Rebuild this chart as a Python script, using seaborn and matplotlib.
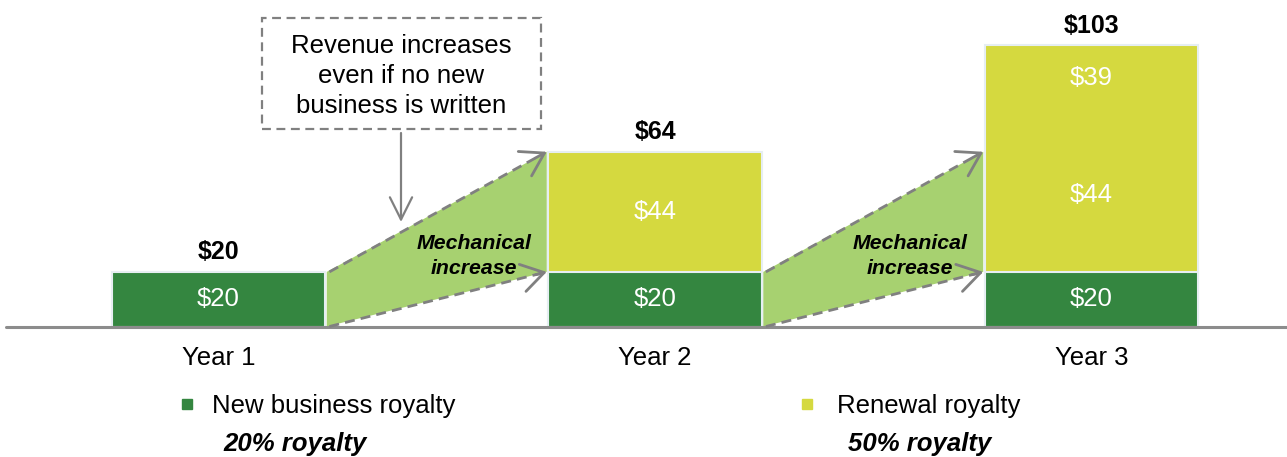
import matplotlib
matplotlib.use("Agg")
import matplotlib.pyplot as plt
from matplotlib.patches import Polygon, Rectangle
import seaborn as sns
import pandas as pd
import numpy as np

# ---- data ----
years = ["Year 1", "Year 2", "Year 3"]
new_business = [20, 20, 20]
renewal_yr2_cohort = [0, 44, 44]
renewal_yr3_cohort = [0, 0, 39]
totals = [20, 64, 103]
legend_labels = ["New business royalty", "Renewal royalty"]
legend_notes = ["20% royalty", "50% royalty"]
callout_text = "Revenue increases\neven if no new\nbusiness is written"
mech_text = "Mechanical\nincrease"

# ---- style ----
GREEN = "#348640"
YELLOW = "#D5D93F"
LIGHT = "#A7D170"
GRAY = "#808080"
EDGE = "#E6EEF2"
FONT = ["Liberation Sans", "DejaVu Sans"]

sns.set_theme(style="white")
plt.rcParams["font.family"] = FONT

W, H = 1287, 457
fig = plt.figure(figsize=(W / 100, H / 100), dpi=100)
ax = fig.add_axes([0, 0, 1, 1])

# pixel -> data helpers (layout only)
X0, XS = 218.5, 436.5
Y0, YS = 326.5, 2.73
def dx(px):
    return (px - X0) / XS
def dy(py):
    return (Y0 - py) / YS

bw = 0.488
df = pd.DataFrame({
    "year": years,
    "new": new_business,
    "r2": renewal_yr2_cohort,
    "r3": renewal_yr3_cohort,
})
df["top"] = df["new"] + df["r2"] + df["r3"]

sns.barplot(data=df, x="year", y="top", color=YELLOW, saturation=1, width=bw,
            edgecolor=EDGE, linewidth=1.5, ax=ax, zorder=3)
sns.barplot(data=df, x="year", y="new", color=GREEN, saturation=1, width=bw,
            edgecolor=EDGE, linewidth=1.5, ax=ax, zorder=4)

ax.set_xlim(dx(0), dx(W))
ax.set_ylim(dy(H), dy(0))
ax.axis("off")

# baseline
ax.axhline(0, xmin=6 / W, xmax=1, color="#8C8C8C", lw=2.2, zorder=5)

# mechanical increase wedges
for i in range(2):
    lx = i + bw / 2 + 0.004
    rx = i + 1 - bw / 2 - 0.004
    lo_l, hi_l = 0, df["new"][i]
    lo_r = df["new"][i + 1]
    hi_r = df["new"][i + 1] + df["r2"][i + 1]
    poly = Polygon([(lx, lo_l), (lx, hi_l), (rx, hi_r), (rx, lo_r)],
                   closed=True, facecolor=LIGHT, edgecolor="none", zorder=2)
    ax.add_patch(poly)
    for (y_start, y_end) in [(hi_l, hi_r), (lo_l, lo_r)]:
        ax.plot([lx + 0.006, rx - 0.01], [y_start, y_end + (y_start - y_end) * 0.01 / (rx - lx)],
                color=GRAY, lw=2, dashes=(3.6, 2.2), zorder=6, solid_capstyle="butt")
        frac = 0.05
        ax.annotate("", xy=(rx, y_end),
                    xytext=(rx - frac * (rx - lx), y_end - frac * (y_end - y_start)),
                    arrowprops=dict(arrowstyle="->,head_length=0.8,head_width=0.5",
                                    color=GRAY, lw=2, shrinkA=0, shrinkB=0,
                                    mutation_scale=20),
                    zorder=6)
    ax.text(i + 0.585, dy(256), mech_text, ha="center", va="center",
            fontsize=15.3, fontweight="bold", fontstyle="italic",
            color="black", linespacing=1.38, zorder=7)

# segment labels (white)
lab_fs = 18.5
for i in range(3):
    ax.annotate(f"${df['new'][i]}", (i, df["new"][i] / 2), ha="center", va="center",
                fontsize=lab_fs, color="white", zorder=8)
    if df["r2"][i] > 0:
        off = 12 if df["r3"][i] > 0 else 0
        ax.annotate(f"${df['r2'][i]}", (i, df["new"][i] + df["r2"][i] / 2),
                    xytext=(0, off), textcoords="offset points",
                    ha="center", va="center", fontsize=lab_fs, color="white", zorder=8)
    if df["r3"][i] > 0:
        base = df["new"][i] + df["r2"][i]
        ax.annotate(f"${df['r3'][i]}", (i, base + df["r3"][i] / 2),
                    xytext=(0, 15), textcoords="offset points",
                    ha="center", va="center", fontsize=lab_fs, color="white", zorder=8)
    # totals
    ax.annotate(f"${totals[i]}", (i, totals[i]), xytext=(0, 14),
                textcoords="offset points", ha="center", va="center",
                fontsize=18, fontweight="bold", color="black", zorder=8)
    # year labels
    ax.text(i, dy(358), years[i], ha="center", va="center", fontsize=lab_fs,
            color="black")

# callout box
ax.add_patch(Rectangle((dx(262), dy(129)), dx(540.5) - dx(262), dy(18) - dy(129),
                       facecolor="white", edgecolor=GRAY, lw=1.6,
                       linestyle=(0, (4, 2.5)), zorder=6))
ax.text(dx(401), dy(76), callout_text, ha="center", va="center",
        fontsize=18.5, color="black", linespacing=1.3, zorder=7)
ax.annotate("", xy=(dx(401), dy(222)), xytext=(dx(401), dy(133)),
            arrowprops=dict(arrowstyle="->,head_length=0.8,head_width=0.4",
                            color=GRAY, lw=1.6, shrinkA=0, shrinkB=0,
                            mutation_scale=20), zorder=6)

# legend
leg = [(187, 211.7, 295, GREEN), (807, 836.7, 920, YELLOW)]
for (mx, tx, nx, col), lab, note in zip(leg, legend_labels, legend_notes):
    ax.plot([dx(mx)], [dy(404)], marker="s", ms=7.5, color=col, mec=col, ls="none")
    ax.text(dx(tx), dy(413.5), lab, ha="left", va="baseline", fontsize=lab_fs,
            color="black")
    ax.text(dx(nx), dy(451), note, ha="center", va="baseline", fontsize=18.5,
            fontweight="bold", fontstyle="italic", color="black")

fig.savefig("out.png", dpi=100)
